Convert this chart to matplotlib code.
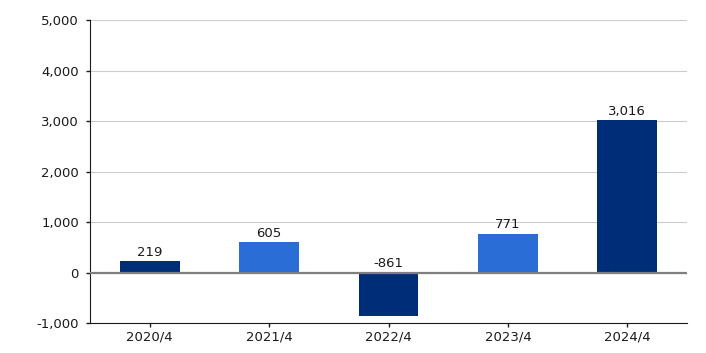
import matplotlib
matplotlib.use("Agg")
import matplotlib.pyplot as plt
from matplotlib.ticker import FuncFormatter

categories = ["2020/4", "2021/4", "2022/4", "2023/4", "2024/4"]
values = [219, 605, -861, 771, 3016]
colors = ["#002d78", "#2b6dd6", "#002d78", "#2b6dd6", "#002d78"]

plt.rcParams['font.family'] = ['DejaVu Sans']
fig = plt.figure(figsize=(7.06, 3.53), dpi=100)
ax = fig.add_axes([90/706, 1-323/353, (687-90)/706, (323-20)/353])

x = list(range(len(categories)))
ax.bar(x, values, width=0.5, color=colors, zorder=2)
ax.axhline(0, color="#7f7f7f", lw=1.6, zorder=3)

for xi, v in zip(x, values):
    ax.annotate(f"{v:,}", (xi, max(v, 0)), xytext=(0, 1.5), textcoords="offset points",
                ha="center", va="bottom", fontsize=9.5, color="#1a1a1a")

ax.set_xlim(-0.5, 4.5)
ax.set_ylim(-1000, 5000)
ax.set_yticks(range(-1000, 5001, 1000))
ax.yaxis.set_major_formatter(FuncFormatter(lambda v, p: f"{int(v):,}"))
ax.set_xticks(x)
ax.set_xticklabels(categories)
ax.grid(axis="y", color="#cccccc", lw=0.8, zorder=0)
for s in ["top", "right"]:
    ax.spines[s].set_visible(False)
ax.spines["left"].set_color("#1a1a1a")
ax.spines["bottom"].set_color("#1a1a1a")
ax.tick_params(axis="both", labelsize=9.5, colors="#1a1a1a", length=3, width=1)
ax.tick_params(axis="x", pad=2.5)
ax.tick_params(axis="y", pad=5)
fig.savefig("out.png", dpi=100)
